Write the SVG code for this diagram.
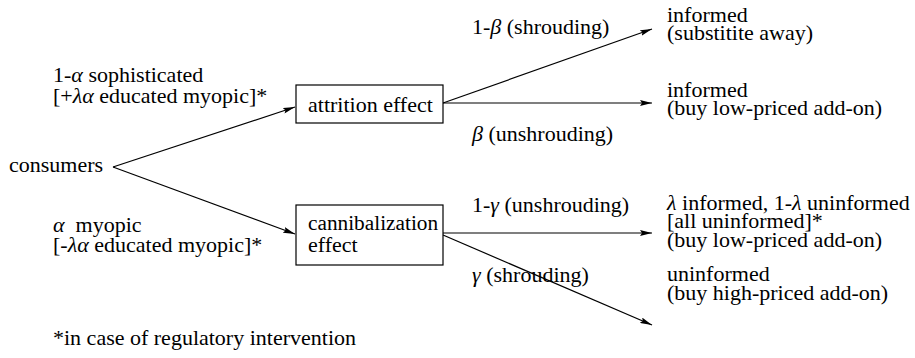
<svg xmlns="http://www.w3.org/2000/svg" width="915" height="358" viewBox="0 0 915 358" font-family="'Liberation Serif', 'Times New Roman', serif">
<style>
text{font-family:'Liberation Serif','Times New Roman',serif;font-size:22px;fill:#000}
.g{font-style:italic}
.box{fill:#fff;stroke:#000;stroke-width:1.2}
.c{stroke:#000;stroke-width:1.2;fill:none;marker-end:url(#ah)}
</style>
<defs>
<marker id="ah" viewBox="0 0 12 6" refX="12" refY="3" markerWidth="12" markerHeight="6" markerUnits="userSpaceOnUse" orient="auto">
<path d="M0,0 L12,3 L0,6 L2,3 Z" fill="#000"/>
</marker>
</defs>
<rect width="915" height="358" fill="#fff"/>
<g id="connectors">
<line class="c" x1="113" y1="167" x2="295" y2="107"/>
<line class="c" x1="113" y1="167" x2="295" y2="234"/>
<line class="c" x1="443" y1="103" x2="652" y2="29"/>
<line class="c" x1="443" y1="103" x2="652" y2="103"/>
<line class="c" x1="443" y1="233" x2="652" y2="233"/>
<line class="c" x1="443" y1="235" x2="652" y2="325"/>
</g>
<g id="consumers"><text x="9" y="172">consumers</text></g>
<g id="label-sophisticated">
<text x="53" y="82">1-<tspan class="g">α</tspan> sophisticated</text>
<text x="53" y="103">[+<tspan class="g">λα</tspan> educated myopic]*</text>
</g>
<g id="label-myopic">
<text x="53" y="232" xml:space="preserve"><tspan class="g">α</tspan>  myopic</text>
<text x="53" y="252">[-<tspan class="g">λα</tspan> educated myopic]*</text>
</g>
<g id="attrition"><rect class="box" x="296" y="85" width="147" height="38"/><text x="308" y="112">attrition effect</text></g>
<g id="cannibalization"><rect class="box" x="296" y="205" width="147" height="60"/><text x="308" y="230" style="font-size:21.3px">cannibalization</text><text x="308" y="252">effect</text></g>
<g id="edge-labels">
<text x="472" y="34">1-<tspan class="g">β</tspan> (shrouding)</text>
<text x="472" y="141"><tspan class="g">β</tspan> (unshrouding)</text>
<text x="472" y="212">1-<tspan class="g">γ</tspan> (unshrouding)</text>
<text x="472" y="282"><tspan class="g">γ</tspan> (shrouding)</text>
</g>
<g id="outcome1"><text x="667" y="22">informed</text><text x="667" y="40">(substitite away)</text></g>
<g id="outcome2"><text x="667" y="97">informed</text><text x="667" y="115">(buy low-priced add-on)</text></g>
<g id="outcome3"><text x="667" y="210"><tspan class="g">λ</tspan> informed, 1-<tspan class="g">λ</tspan> uninformed</text><text x="667" y="228">[all uninformed]*</text><text x="667" y="247">(buy low-priced add-on)</text></g>
<g id="outcome4"><text x="667" y="281">uninformed</text><text x="667" y="300">(buy high-priced add-on)</text></g>
<g id="footnote"><text x="53" y="345">*in case of regulatory intervention</text></g>
</svg>
